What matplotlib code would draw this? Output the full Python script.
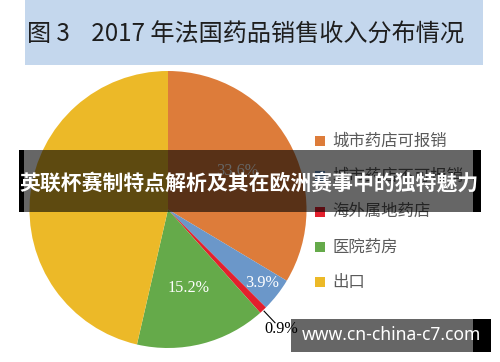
import numpy as np
import matplotlib
matplotlib.use('Agg')
import matplotlib.pyplot as plt
from matplotlib.patches import Rectangle

plt.rcParams['font.family'] = ['Noto Sans CJK SC', 'DejaVu Sans']

# data
labels = ['城市药店可报销', '城市药店不可报销', '海外属地药店', '医院药房', '出口']
shares = [33.6, 3.9, 0.9, 15.2, 46.4]
colors = ['#dd7c3a', '#6b97c9', '#e3202d', '#65aa4a', '#ecb928']
pct_text = ['33.6%', '3.9%', '0.9%', '15.2%', '']
pct_dist = [0.57, 0.86, 1.19, 0.585, 0.6]

title = '图 3    2017 年法国药品销售收入分布情况'
banner = '英联杯赛制特点解析及其在欧洲赛事中的独特魅力'
watermark = 'www.cn-china-c7.com'

W, H = 500, 362
fig = plt.figure(figsize=(W / 100, H / 100), dpi=100)

# background layer: title bar + legend (pixel coords, y down)
bg = fig.add_axes([0, 0, 1, 1], zorder=0)
bg.set_xlim(0, W)
bg.set_ylim(H, 0)
bg.axis('off')
bg.add_patch(Rectangle((25, 0), 458, 65, color='#c4d7ed', lw=0))
bg.text(27, 35, title, fontsize=17.4, color='#1e1e1e', va='center', ha='left')

leg_y0, leg_dy = 141, 35.3
for i, (lab, c) in enumerate(zip(labels, colors)):
    y = leg_y0 + i * leg_dy
    bg.add_patch(Rectangle((315, y - 5), 10, 10, color=c, lw=0))
    bg.text(332, y, lab, fontsize=11.8, color='#5a5a5a', va='center', ha='left')

# pie
cx, cy, r = 168, 209.5, 138.5
ax = fig.add_axes([(cx - r) / W, (H - cy - r) / H, 2 * r / W, 2 * r / H], zorder=1)
wedges, _ = ax.pie(shares, colors=colors, startangle=90, counterclock=False,
                   radius=1, wedgeprops=dict(linewidth=0))
ax.set_xlim(-1, 1)
ax.set_ylim(-1, 1)
ax.set_aspect('auto')
ax.axis('off')

for w, t, d in zip(wedges, pct_text, pct_dist):
    if not t:
        continue
    ang = np.deg2rad((w.theta1 + w.theta2) / 2)
    col = 'black' if d > 1 else 'white'
    ax.text(d * np.cos(ang), d * np.sin(ang), t, ha='center', va='center',
            fontsize=11.7, color=col, family='Liberation Serif')
    if d > 1:
        ax.plot([1.01 * np.cos(ang), 1.125 * np.cos(ang)],
                [1.01 * np.sin(ang), 1.125 * np.sin(ang)], color='black', lw=0.8,
                clip_on=False)

# overlay layer: banner + watermark
ov = fig.add_axes([0, 0, 1, 1], zorder=2)
ov.set_xlim(0, W)
ov.set_ylim(H, 0)
ov.axis('off')
ov.patch.set_alpha(0)
ov.add_patch(Rectangle((24, 150), 449, 62, color='black', alpha=0.6, lw=0))
ov.add_patch(Rectangle((19, 150), 5, 62, color='black', lw=0))
ov.add_patch(Rectangle((473, 150), 8, 62, color='black', lw=0))
ov.text(249, 183, banner, fontsize=15, color='white', weight='bold',
        ha='center', va='center')

ov.add_patch(Rectangle((291, 319), 182, 33, color='black', alpha=0.6, lw=0))
ov.add_patch(Rectangle((473, 319), 18, 33, color='black', lw=0))
ov.text(391, 335, watermark, fontsize=12.6, color='white', weight='bold',
        ha='center', va='center', family='Noto Sans')

fig.savefig('out.png', dpi=100)
